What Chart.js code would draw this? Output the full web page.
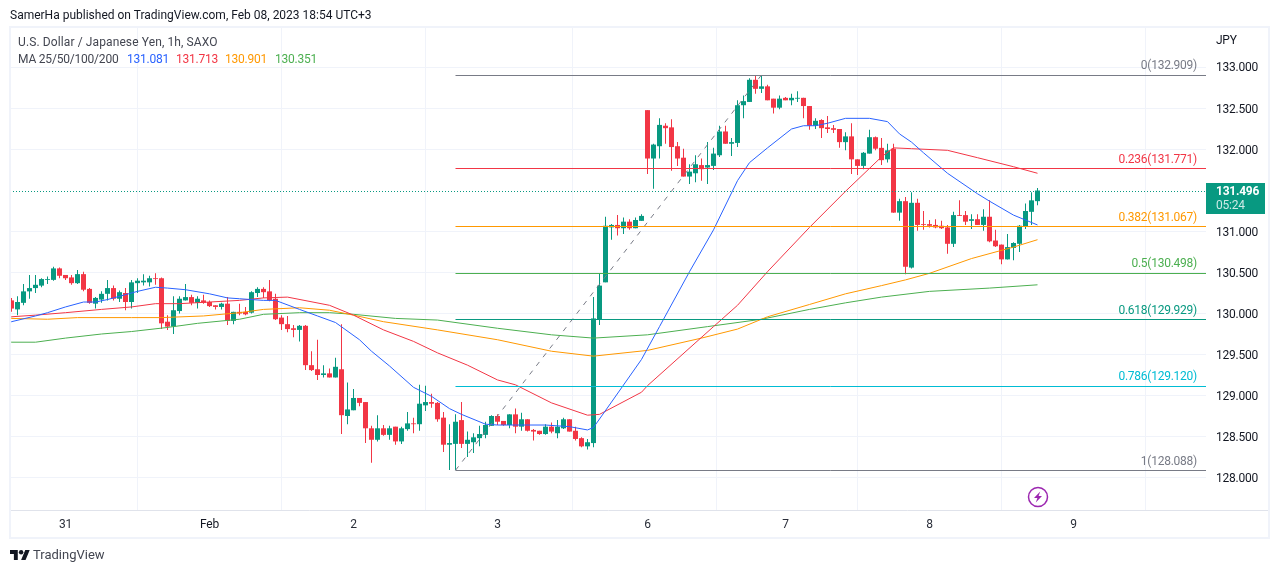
<!DOCTYPE html>
<html>
<head>
<meta charset="utf-8">
<title>USD/JPY 1h</title>
<script src="https://cdn.jsdelivr.net/npm/chart.js@4/dist/chart.umd.min.js"></script>
<style>
html,body{margin:0;padding:0;background:#fff;width:1280px;height:573px;overflow:hidden}
#wrap{position:relative;width:1280px;height:573px;font-family:Roboto,sans-serif}
canvas{position:absolute;left:0;top:0}
.t{position:absolute;white-space:nowrap;line-height:16px;font-size:12px;color:#131722}
.n{letter-spacing:-0.25px}
#frame{position:absolute;left:9px;top:26px;width:1257px;height:509px;border:2px solid #f0f3fa;pointer-events:none}
#axisrule{position:absolute;left:1207px;top:510px;width:61px;height:1px;background:#e0e3eb}
</style>
</head>
<body>
<div id="wrap">
<canvas id="c" width="1280" height="573"></canvas>
<div id="frame"></div>
<div id="axisrule"></div>
<div class="t" style="left:10px;top:7px">SamerHa published on TradingView.com, Feb 08, 2023 18:54 UTC+3</div>
<div class="t" style="left:18px;top:34px;color:#434651;letter-spacing:0.11px">U.S. Dollar / Japanese Yen, 1h, SAXO</div>
<div class="t" style="left:18px;top:51px;color:#434651;letter-spacing:-0.2px">MA 25/50/100/200</div>
<div class="t n" style="left:127px;top:51px;color:#2962ff">131.081</div>
<div class="t n" style="left:176px;top:51px;color:#f23645">131.713</div>
<div class="t n" style="left:225px;top:51px;color:#ff9800">130.901</div>
<div class="t n" style="left:275px;top:51px;color:#4caf50">130.351</div>
<svg style="position:absolute;left:10px;top:549px" width="20" height="12" viewBox="0 3 36 20"><path fill="#131722" d="M14 22H7V11H0V4h14v18zM28 22h-8l7.5-18h8L28 22z"/><circle fill="#131722" cx="20" cy="8" r="4"/></svg>
<div class="t" style="left:33px;top:547px;font-size:13px;color:#434651">TradingView</div>
<svg style="position:absolute;left:1027px;top:486px" width="22" height="22" viewBox="0 0 22 22"><circle cx="11" cy="11" r="9.5" fill="none" stroke="#9c27b0" stroke-width="1.5"/><path fill="#9c27b0" d="M13.2 5.5 7 12h3.4l-1.6 4.5L15 10h-3.4z"/></svg>
</div>
<script>
const openPrices = [
130.16,130.05,130.13,130.27,130.31,130.34,130.41,130.41,130.55,130.47,
130.44,130.37,130.48,130.30,130.12,130.17,130.24,130.31,130.18,130.25,
130.14,130.37,130.38,130.38,130.43,130.43,129.90,129.84,130.03,130.16,
130.20,130.13,130.16,130.14,130.10,130.08,130.12,129.91,130.02,130.02,
130.01,130.25,130.30,130.27,130.18,129.95,129.87,129.82,129.80,129.85,
129.37,129.32,129.25,129.27,129.22,129.32,128.75,128.82,128.97,128.92,
128.60,128.46,128.60,128.52,128.62,128.44,128.59,128.66,128.65,128.88,
128.92,128.91,128.73,128.40,128.41,128.70,128.41,128.43,128.48,128.52,
128.63,128.75,128.69,128.64,128.77,128.62,128.71,128.58,128.57,128.53,
128.62,128.54,128.60,128.71,128.57,128.48,128.38,128.42,129.93,130.38,
131.05,131.08,131.04,131.12,131.04,131.13,132.48,131.89,132.04,132.29,
132.27,132.04,131.90,131.67,131.71,131.81,131.78,131.80,131.93,132.22,
132.07,132.08,132.54,132.58,132.85,132.74,132.77,132.62,132.51,132.63,
132.60,132.62,132.63,132.53,132.29,132.36,132.27,132.26,132.25,132.09,
132.16,131.88,131.80,131.95,132.15,132.02,131.88,132.01,131.23,131.37,
130.56,131.35,131.09,131.09,131.08,131.07,131.05,130.85,131.20,131.20,
131.13,131.15,131.08,131.18,130.89,130.84,130.66,130.80,130.85,131.06,
131.24,131.37];
const highPrices = [
130.19,130.21,130.36,130.47,130.47,130.43,130.45,130.57,130.56,130.47,
130.47,130.53,130.51,130.31,130.20,130.27,130.41,130.34,130.28,130.31,
130.41,130.43,130.48,130.46,130.49,130.44,129.98,130.21,130.21,130.36,
130.23,130.21,130.23,130.16,130.10,130.13,130.20,130.02,130.12,130.08,
130.27,130.32,130.32,130.41,130.24,129.98,129.97,129.86,129.86,129.86,
129.54,129.68,129.37,129.33,129.46,129.87,129.16,129.08,128.97,128.92,
128.63,128.76,128.64,128.63,128.62,128.62,128.80,128.73,129.13,129.12,
129.02,128.92,128.80,128.65,128.77,128.92,128.56,128.54,128.63,128.68,
128.76,128.77,128.69,128.77,128.84,128.79,128.71,128.59,128.57,128.65,
128.67,128.70,128.73,128.71,128.62,128.49,128.47,130.20,130.49,131.18,
131.09,131.20,131.17,131.15,131.17,131.21,132.48,132.07,132.38,132.32,
132.37,132.09,132.01,131.82,131.93,131.89,132.09,132.02,132.29,132.29,
132.14,132.60,132.66,132.87,132.90,132.91,132.79,132.62,132.66,132.64,
132.68,132.71,132.63,132.53,132.38,132.37,132.41,132.30,132.25,132.21,
132.32,131.88,131.97,132.24,132.16,132.14,132.07,132.07,131.40,131.42,
131.48,131.40,131.25,131.14,131.15,131.13,131.08,131.24,131.38,131.25,
131.21,131.21,131.27,131.38,131.02,130.84,130.97,130.87,131.08,131.34,
131.48,131.53];
const lowPrices = [
130.02,129.98,130.10,130.18,130.25,130.32,130.36,130.40,130.43,130.41,
130.35,130.36,130.27,130.12,130.06,130.13,130.16,130.16,130.14,130.04,
130.06,130.25,130.34,130.33,130.35,129.81,129.80,129.75,130.00,130.16,
130.10,130.06,130.12,130.08,130.05,130.05,129.86,129.87,129.98,129.98,
130.00,130.20,130.19,130.15,129.92,129.80,129.77,129.71,129.66,129.31,
129.30,129.19,129.22,129.22,129.22,128.53,128.65,128.82,128.87,128.42,
128.18,128.44,128.51,128.46,128.40,128.41,128.57,128.54,128.57,128.81,
128.85,128.68,128.31,128.09,128.09,128.36,128.25,128.30,128.38,128.48,
128.63,128.64,128.63,128.60,128.54,128.57,128.56,128.45,128.52,128.52,
128.54,128.48,128.59,128.56,128.45,128.37,128.34,128.37,129.86,130.38,
130.90,130.95,130.97,131.02,131.04,131.13,131.70,131.52,131.89,132.07,
131.74,131.80,131.67,131.58,131.60,131.62,131.58,131.75,131.91,132.07,
131.92,132.03,132.38,132.58,132.68,132.69,132.60,132.44,132.49,132.60,
132.54,132.58,132.38,132.24,132.25,132.14,132.20,132.20,132.02,131.99,
131.70,131.69,131.76,131.95,131.99,131.81,131.84,131.23,131.13,130.48,
130.55,131.01,131.02,131.05,131.04,131.03,130.73,130.81,131.19,131.08,
131.03,131.08,131.01,130.87,130.81,130.60,130.66,130.65,130.75,131.03,
131.08,131.32];
const closePrices = [
130.06,130.14,130.27,130.31,130.35,130.42,130.42,130.55,130.46,130.43,
130.37,130.48,130.29,130.13,130.19,130.24,130.31,130.18,130.26,130.14,
130.38,130.40,130.40,130.43,130.42,129.88,129.84,130.04,130.18,130.20,
130.13,130.18,130.13,130.09,130.08,130.12,129.91,130.02,130.00,129.99,
130.26,130.30,130.26,130.16,129.93,129.87,129.81,129.80,129.85,129.37,
129.31,129.25,129.27,129.22,129.35,128.76,128.83,128.97,128.91,128.60,
128.46,128.60,128.52,128.60,128.44,128.60,128.66,128.65,128.90,128.92,
128.90,128.71,128.40,128.42,128.68,128.41,128.46,128.49,128.53,128.64,
128.75,128.68,128.64,128.77,128.62,128.71,128.57,128.56,128.53,128.62,
128.56,128.62,128.71,128.56,128.47,128.38,128.43,129.94,130.34,131.07,
131.08,131.04,131.12,131.04,131.14,131.19,131.89,132.06,132.30,132.26,
132.03,131.89,131.67,131.73,131.82,131.76,131.81,131.95,132.22,132.07,
132.09,132.54,132.59,132.85,132.74,132.77,132.60,132.51,132.62,132.60,
132.63,132.63,132.53,132.29,132.35,132.26,132.25,132.24,132.09,132.16,
131.88,131.80,131.96,132.15,132.01,131.87,131.99,131.23,131.37,130.57,
131.35,131.08,131.08,131.07,131.05,131.04,130.85,131.20,131.19,131.12,
131.15,131.08,131.18,130.88,130.82,130.66,130.81,130.86,131.07,131.25,
131.38,131.50];

const ma25Index = [-1,0,4,6,9,12,14,16,18,21,24,26,29,33,36,38,42,44,48,51,54,58,60,63,67,70,73,75,79,81,89,93,96,97,100,105,108,113,117,121,123,126,130,132,134,136,139,143,146,148,150,152,156,161,163,167,171];
const ma25 = [129.89,129.90,129.97,130.01,130.08,130.14,130.14,130.17,130.21,130.27,130.32,130.31,130.29,130.24,130.19,130.18,130.16,130.16,130.05,129.97,129.89,129.68,129.54,129.36,129.10,128.99,128.84,128.77,128.65,128.64,128.64,128.62,128.58,128.61,128.92,129.44,129.84,130.51,131.02,131.62,131.84,132.02,132.25,132.29,132.29,132.32,132.38,132.38,132.34,132.19,132.09,131.96,131.71,131.46,131.37,131.20,131.08];
const ma50Index = [-1,0,4,9,15,20,24,28,33,38,42,46,53,57,62,67,71,76,81,84,90,96,98,105,106,117,121,126,133,139,145,147,150,156,161,167,171];
const ma50 = [129.96,129.96,129.98,130.01,130.05,130.08,130.12,130.12,130.14,130.16,130.19,130.20,130.10,129.98,129.80,129.66,129.52,129.37,129.19,129.13,128.91,128.76,128.77,129.04,129.12,129.84,130.10,130.51,131.05,131.49,131.91,132.02,132.01,131.99,131.90,131.79,131.71];
const ma100Index = [-1,0,6,11,20,25,32,38,42,48,53,57,62,71,81,90,97,106,115,121,126,133,139,145,149,153,160,167,171];
const ma100 = [129.94,129.94,129.93,129.95,129.95,129.95,129.97,130.01,130.05,130.07,130.04,129.98,129.90,129.80,129.68,129.54,129.48,129.55,129.70,129.81,129.96,130.11,130.24,130.34,130.41,130.49,130.67,130.81,130.90];
const ma200Index = [-1,0,4,9,15,20,26,31,38,42,48,53,57,64,71,81,90,97,106,116,125,133,139,145,153,163,171];
const ma200 = [129.65,129.65,129.65,129.70,129.75,129.78,129.83,129.88,129.93,129.99,130.01,130.01,129.99,129.94,129.92,129.82,129.74,129.70,129.74,129.84,129.93,130.05,130.13,130.20,130.27,130.31,130.35];

const fibRatios = [0,0.236,0.382,0.5,0.618,0.786,1];
const fibPrices = [132.909,131.771,131.067,130.498,129.929,129.120,128.088];
const fibColors = ['#787b86','#f23645','#ff9800','#4caf50','#089981','#00bcd4','#787b86'];
const fibStartIndex = 74;
const trendEndIndex = 125;
const lastPrice = 131.496;
const countdown = '05:24';

const dayTicks = [9,33,57,81,106,129,153,177];
const dayLabels = ['31','Feb','2','3','6','7','8','9'];
const priceTicks = [128,128.5,129,129.5,130,130.5,131,132,132.5,133];

const X_MIN = -0.25, X_MAX = 199.083, Y_MIN = 127.6037, Y_MAX = 133.4817;
const UP = '#089981', DOWN = '#f23645';
const candleColors = closePrices.map((c,i)=> c>=openPrices[i] ? UP : DOWN);
const FONT = 'Roboto, sans-serif';
const toXY = (idx,vals)=> idx.map((x,i)=>({x,y:vals[i]}));
const lineDs = (data,color,order,extra)=>Object.assign({type:'line',data,borderColor:color,borderWidth:1,pointRadius:0,fill:false,order,tension:0},extra||{});

const datasets = [
  {type:'bar',label:'wick',data:highPrices.map((h,i)=>({x:i,y:[lowPrices[i],h]})),backgroundColor:candleColors,barThickness:1,grouped:false,inflateAmount:0,order:6},
  {type:'bar',label:'body',data:closePrices.map((c,i)=>({x:i,y:[Math.min(openPrices[i],c),Math.max(openPrices[i],c)]})),backgroundColor:candleColors,barThickness:5,grouped:false,inflateAmount:0,order:5},
  lineDs(toXY(ma25Index,ma25),'#2962ff',4,{label:'MA25'}),
  lineDs(toXY(ma50Index,ma50),'#f23645',4,{label:'MA50'}),
  lineDs(toXY(ma100Index,ma100),'#ff9800',4,{label:'MA100'}),
  lineDs(toXY(ma200Index,ma200),'#4caf50',4,{label:'MA200'}),
  lineDs([{x:X_MIN,y:lastPrice},{x:X_MAX,y:lastPrice}],UP,3,{label:'crisp-last',borderDash:[1,2]}),
  lineDs([{x:fibStartIndex,y:fibPrices[6]},{x:trendEndIndex,y:fibPrices[0]}],'#787b86',3,{label:'trend',borderDash:[5,6]})
];
fibPrices.forEach((p,i)=>datasets.push(lineDs([{x:fibStartIndex,y:p},{x:X_MAX,y:p}],fibColors[i],2,{label:'crisp-fib'+fibRatios[i]})));

const overlay = {
  id:'overlay',
  afterDatasetsUpdate(chart){
    chart.data.datasets.forEach((d,i)=>{
      if(String(d.label).startsWith('crisp-')){
        chart.getDatasetMeta(i).data.forEach(pt=>{pt.y=Math.round(pt.y)+0.5;});
      }
    });
  },
  beforeDraw(chart){
    chart.ctx.letterSpacing='-0.25px';
    chart.scales.y.getLabelItems().forEach(it=>{it.options.translation[1]+=1;});
  },
  afterDatasetsDraw(chart){
    const {ctx,scales:{y},chartArea:a}=chart;
    ctx.save();
    ctx.font='12px '+FONT;
    ctx.textBaseline='middle';
    ctx.textAlign='right';
    fibPrices.forEach((p,i)=>{
      ctx.fillStyle=fibColors[i];
      ctx.fillText(fibRatios[i]+'('+p.toFixed(3)+')',a.right-9,y.getPixelForValue(p)-8.5);
    });
    const py=y.getPixelForValue(lastPrice);
    ctx.fillStyle=UP;
    ctx.fillRect(a.right,Math.round(py)-8,59,31);
    ctx.textAlign='left';
    ctx.fillStyle='#ffffff';
    ctx.font='bold 12px '+FONT;
    ctx.fillText(lastPrice.toFixed(3),a.right+10,py+1.5);
    ctx.font='12px '+FONT;
    ctx.fillStyle='rgba(255,255,255,0.8)';
    ctx.fillText(countdown,a.right+10,py+15);
    ctx.fillStyle='#131722';
    ctx.fillText('JPY',a.right+10,41);
    ctx.restore();
  }
};

new Chart(document.getElementById('c'),{
  data:{datasets},
  plugins:[overlay],
  options:{
    responsive:false,animation:false,devicePixelRatio:1,
    layout:{padding:{left:10,top:28,right:10,bottom:35}},
    plugins:{legend:{display:false},title:{display:false},tooltip:{enabled:false}},
    scales:{
      x:{type:'linear',min:X_MIN,max:X_MAX,offset:false,
        afterBuildTicks:s=>{s.ticks=dayTicks.map(v=>({value:v}));},
        afterFit:s=>{s.height=28;},
        grid:{color:'#f0f3fa',drawTicks:false},
        border:{display:true,color:'#e0e3eb'},
        ticks:{autoSkip:false,maxRotation:0,padding:8,color:c=>dayLabels[c.index]==='Feb'?'#131722':'#2a2e39',font:{family:FONT,size:12},callback:v=>dayLabels[dayTicks.indexOf(v)]}
      },
      y:{type:'linear',position:'right',min:Y_MIN,max:Y_MAX,
        afterBuildTicks:s=>{s.ticks=priceTicks.map(v=>({value:v}));},
        afterFit:s=>{s.width=64;},
        grid:{color:'#f0f3fa',drawTicks:false},
        border:{display:false},
        ticks:{padding:10,color:'#131722',font:{family:FONT,size:12},callback:v=>v.toFixed(3)}
      }
    }
  }
});
</script>
</body>
</html>
